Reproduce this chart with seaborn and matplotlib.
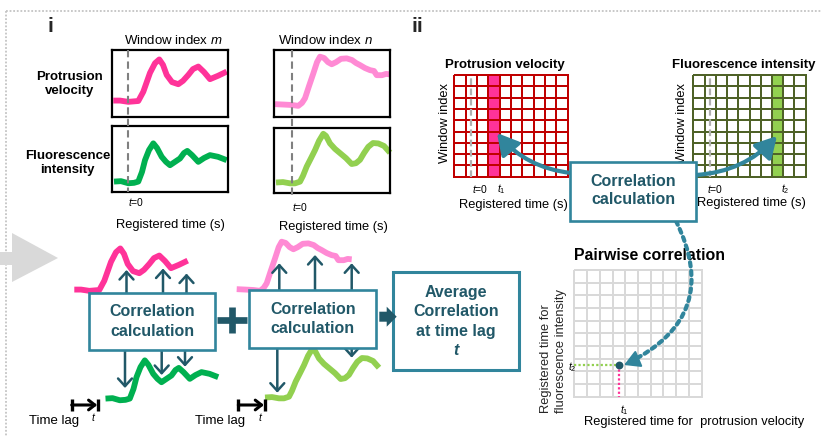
import numpy as np
import matplotlib
matplotlib.use("Agg")
import matplotlib.pyplot as plt
import seaborn as sns
from matplotlib.patches import Rectangle, Polygon, FancyArrowPatch
from matplotlib.colors import ListedColormap

sns.set_theme(style="white")
plt.rcParams["font.family"] = ["Liberation Sans", "DejaVu Sans"]
plt.rcParams["mathtext.fontset"] = "custom"
plt.rcParams["mathtext.rm"] = "Liberation Sans"
plt.rcParams["mathtext.it"] = "Liberation Sans:italic"
plt.rcParams["mathtext.bf"] = "Liberation Sans:bold"

# ---------------- data ----------------
# protrusion velocity, window m
pv_m_t = [-1.47, -0.8, 0.03, 1.03, 1.53, 2.2, 2.7, 3.13, 3.5, 3.87, 4.4, 5.03, 5.5, 6.03, 6.5, 7.03, 7.6, 8.2, 9.0, 9.87]
pv_m_v = [0.01, 0.01, -0.02, 0.0, 0.22, 0.67, 0.9, 0.99, 0.86, 0.62, 0.45, 0.4, 0.48, 0.62, 0.76, 0.82, 0.69, 0.52, 0.6, 0.7]
# fluorescence intensity, window m
fi_m_t = [-1.4, -0.7, 0.03, 0.6, 1.03, 1.4, 1.7, 2.1, 2.53, 2.9, 3.37, 3.8, 4.2, 4.7, 5.2, 5.6, 5.93, 6.4, 7.03, 7.6, 8.2, 9.0, 9.87]
fi_m_v = [0.01, 0.02, -0.03, -0.02, 0.01, 0.24, 0.52, 0.76, 0.92, 0.81, 0.6, 0.48, 0.4, 0.48, 0.56, 0.69, 0.74, 0.64, 0.48, 0.57, 0.64, 0.6, 0.52]
# protrusion velocity, window n
pv_n_t = [-1.7, -0.8, -0.03, 0.63, 1.0, 1.3, 1.7, 2.13, 2.5, 2.8, 3.2, 3.6, 3.97, 4.4, 4.9, 5.47, 6.0, 6.4, 6.8, 7.3, 7.8, 8.2, 8.47, 9.0, 9.4, 9.8]
pv_n_v = [0.02, 0.01, 0.0, -0.02, 0.05, 0.16, 0.45, 0.75, 1.02, 1.15, 1.12, 1.02, 0.97, 1.02, 1.1, 1.11, 1.07, 1.0, 0.95, 0.88, 0.83, 0.81, 0.71, 0.71, 0.74, 0.73]
# fluorescence intensity, window n
fi_n_t = [-1.6, -0.9, -0.2, 0.3, 0.8, 1.1, 1.47, 1.9, 2.3, 2.7, 3.13, 3.4, 3.8, 4.3, 4.8, 5.4, 5.97, 6.4, 6.8, 7.2, 7.63, 8.1, 8.63, 9.2, 9.8]
fi_n_v = [0.0, 0.01, -0.02, -0.02, 0.02, 0.16, 0.38, 0.58, 0.77, 0.99, 1.16, 1.11, 0.93, 0.8, 0.7, 0.58, 0.44, 0.46, 0.54, 0.7, 0.85, 0.94, 0.93, 0.87, 0.71]

grid_windows = 9       # rows of the window x time maps
grid_times = 10        # columns of the window x time maps
t0_col = 1             # column of t=0
pv_t1_col = 3          # highlighted column t1 (protrusion)
fi_t2_col = 7          # highlighted column t2 (fluorescence)
pair_n = 10            # pairwise correlation matrix size
pair_t1 = 3            # column of t1
pair_t2_row = 7        # row (from top) of t2

# ---------------- style ----------------
PINK = "#FF3399"
LPINK = "#FF8AD4"
GREEN = "#00B050"
LGREEN = "#92D050"
TEAL = "#31859C"
DTEAL = "#215868"
RED = "#C00000"
OLIVE = "#4F6228"

W, H = 822, 437
fig = plt.figure(figsize=(W / 100, H / 100), dpi=100)


def px_axes(x0, y0, x1, y1, z=0):
    ax = fig.add_axes([x0 / W, 1 - y1 / H, (x1 - x0) / W, (y1 - y0) / H], zorder=z)
    ax.patch.set_alpha(0)
    return ax


bg = px_axes(0, 0, W, H, z=0)
bg.set_xlim(0, W)
bg.set_ylim(H, 0)
bg.axis("off")

# dotted frame + grey arrow
bg.plot([6, W], [11, 11], color="#C4C4C4", lw=1.3, ls=(0, (1, 1)))
bg.plot([6, 6], [11, H], color="#C4C4C4", lw=1.3, ls=(0, (1, 1)))
bg.add_patch(Polygon([(0, 252), (12, 252), (12, 233), (58, 258), (12, 282), (12, 265), (0, 265)],
                     closed=True, facecolor="#D9D9D9", edgecolor="none", zorder=3))

SX, SY = 10.0, 42.0


def curve(t, v, color, t0x, base, box=None, framed=False, z=1):
    if box is None:
        box = (t0x - 25, base - 60, t0x + 115, base + 12)
    x0, y0, x1, y1 = box
    ax = px_axes(x0, y0, x1, y1, z)
    sns.lineplot(x=t, y=v, ax=ax, color=color, lw=4.2, sort=False, estimator=None, legend=False)
    ax.set_xlim((x0 - t0x) / SX, (x1 - t0x) / SX)
    ax.set_ylim((base - y1) / SY, (base - y0) / SY)
    ax.set_xticks([])
    ax.set_yticks([])
    ax.set_xlabel("")
    ax.set_ylabel("")
    for ln in ax.lines:
        ln.set_clip_on(False)
        ln.set_solid_joinstyle("round")
        ln.set_solid_capstyle("butt")
    for s in ax.spines.values():
        s.set_visible(framed)
        s.set_color("black")
        s.set_linewidth(1.6)
    return ax


# panel i: framed traces
curve(pv_m_t, pv_m_v, PINK, 128, 101, box=(112, 50, 228, 117), framed=True)
curve(fi_m_t, fi_m_v, GREEN, 128, 182, box=(112, 126, 228, 192), framed=True)
curve(pv_n_t, pv_n_v, LPINK, 292, 105, box=(274, 50, 390, 117), framed=True)
curve(fi_n_t, fi_n_v, LGREEN, 292, 182.5, box=(274, 128, 390, 193), framed=True)
# panel i: lagged copies
curve(pv_m_t, pv_m_v, PINK, 89, 290)
curve(fi_m_t, fi_m_v, GREEN, 119.5, 399)
curve(pv_n_t, pv_n_v, LPINK, 253.7, 290)
curve(fi_n_t, fi_n_v, LGREEN, 281, 397.5)


def grid(box, nrows, ncols, fill_col, fill_color, line_color, lw, dashed_col=None):
    x0, y0, x1, y1 = box
    ax = px_axes(x0, y0, x1, y1, z=2)
    data = np.zeros((nrows, ncols))
    if fill_col is not None:
        data[:, fill_col] = 1
    sns.heatmap(data, ax=ax, cmap=ListedColormap(["white", fill_color]), vmin=0, vmax=1,
                cbar=False, linewidths=lw, linecolor=line_color,
                xticklabels=False, yticklabels=False)
    ax.collections[0].set_clip_on(False)
    if dashed_col is not None:
        ax.axvline(dashed_col + 0.5, color="#B0B0B0", ls=(0, (3, 1.6)), lw=1.6, clip_on=False)
    return ax


grid((454.3, 75, 567.7, 176.7), grid_windows, grid_times, pv_t1_col, PINK, RED, 1.4, t0_col)
grid((693.3, 75, 805.7, 176.7), grid_windows, grid_times, fi_t2_col, LGREEN, OLIVE, 1.4, t0_col)
pax = grid((574.3, 270, 701.7, 396.7), pair_n, pair_n, None, "white", "#D9D9D9", 1.4)
pax.plot([0, pair_t1 + 0.5], [pair_t2_row + 0.5] * 2, color=LGREEN, lw=1.6, ls=(0, (1, 1)), clip_on=False)
pax.plot([pair_t1 + 0.5] * 2, [pair_t2_row + 0.5, pair_n], color=PINK, lw=1.6, ls=(0, (1, 1)), clip_on=False)
pax.scatter([pair_t1 + 0.5], [pair_t2_row + 0.5], s=32, color=DTEAL, zorder=5, clip_on=False, linewidths=0)

# ---------------- overlay ----------------
ov = px_axes(0, 0, W, H, z=10)
ov.set_xlim(0, W)
ov.set_ylim(H, 0)
ov.axis("off")

# t=0 dashed lines panel i
ov.plot([128, 128], [50, 192], color="#808080", lw=1.5, ls=(0, (3.5, 2)))
ov.plot([292, 292], [50, 195], color="#808080", lw=1.5, ls=(0, (3.5, 2)))

TXT = dict(color="black", ha="center", va="center")
ov.text(47, 26, "i", fontsize=15, fontweight="bold", ha="left", va="center")
ov.text(411, 26, "ii", fontsize=15, fontweight="bold", ha="left", va="center")
ov.text(173, 41, "Window index $m$", fontsize=9.5, **TXT)
ov.text(325, 41, "Window index $n$", fontsize=9.5, **TXT)
ov.text(69.5, 84, "Protrusion\nvelocity", fontsize=9.5, fontweight="bold", linespacing=1.15, **TXT)
ov.text(67.5, 163, "Fluorescence\nintensity", fontsize=9.5, fontweight="bold", linespacing=1.15, **TXT)
ov.text(136, 202, "$t$=0", fontsize=7.5, **TXT)
ov.text(300, 207, "$t$=0", fontsize=7.5, **TXT)
ov.text(170.5, 225, "Registered time (s)", fontsize=9.3, **TXT)
ov.text(333.5, 227, "Registered time (s)", fontsize=9.3, **TXT)

# correlation boxes
def box(x0, y0, x1, y1, lw=1.9):
    ov.add_patch(Rectangle((x0, y0), x1 - x0, y1 - y0, facecolor="white", edgecolor=TEAL, lw=lw, zorder=4))

box(89, 293, 215, 350)
box(249.3, 290, 376, 348.3)
box(393.3, 272.3, 519.3, 370, lw=2.2)
box(570.3, 162.3, 696, 221)

BT = dict(color=DTEAL, fontweight="bold", fontsize=11.5, ha="center", va="center", zorder=6)
ov.text(152, 312, "Correlation", **BT)
ov.text(152, 331, "calculation", **BT)
ov.text(312.7, 310, "Correlation", **BT)
ov.text(312.7, 328.5, "calculation", **BT)
ov.text(456, 292.7, "Average", **BT)
ov.text(456, 311.7, "Correlation", **BT)
ov.text(456, 331.2, "at time lag", **BT)
ov.text(456, 350.7, "t", fontstyle="italic", **BT)
ov.text(633, 181.7, "Correlation", **BT)
ov.text(633, 200, "calculation", **BT)

# up / down arrows
def arr(x, y0, y1):
    ov.add_patch(FancyArrowPatch((x, y0), (x, y1), arrowstyle="->,head_length=0.55,head_width=0.5",
                                 mutation_scale=10, lw=1.8, color=DTEAL, zorder=3, shrinkA=0, shrinkB=0))

for x, tip in [(126.5, 270), (163, 268.5), (186.5, 273.5)]:
    arr(x, 293, tip)
for x, tip in [(125, 388), (161.7, 375), (185, 366.7)]:
    arr(x, 350, tip)
for x, tip in [(279.3, 263.3), (315, 255), (351.7, 263.3)]:
    arr(x, 290, tip)
for x, tip in [(277.3, 392.7), (351.7, 357.7)]:
    arr(x, 348.3, tip)

# plus sign
ov.plot([216.7, 246.7], [319.7, 319.7], color=DTEAL, lw=4.8, solid_capstyle="butt", zorder=5)
ov.plot([231.7, 231.7], [307.3, 333.3], color=DTEAL, lw=4.8, solid_capstyle="butt", zorder=5)
# block arrow to average box
ov.add_patch(Polygon([(379.3, 311.7), (386.7, 311.7), (386.7, 306.7), (396.7, 316.7), (386.7, 326.7),
                      (386.7, 321.7), (379.3, 321.7)], closed=True, facecolor=DTEAL, edgecolor="none", zorder=5))

# time lag bars
for xa, xb, tx, lx in [(71.7, 98.3, 94, 54), (238.3, 265, 260.7, 220.5)]:
    ov.plot([xa, xa], [399, 411], color="black", lw=2.4, solid_capstyle="butt")
    ov.plot([xb, xb], [399, 411], color="black", lw=2.4, solid_capstyle="butt")
    ov.add_patch(FancyArrowPatch((xa, 405), (xb - 1, 405), arrowstyle="->,head_length=0.45,head_width=0.35",
                                 mutation_scale=10, lw=2.2, color="black", shrinkA=0, shrinkB=0))
    ov.text(tx, 417, "$t$", fontsize=7.5, **TXT)
    ov.text(lx, 421, "Time lag", fontsize=9.5, **TXT)

# panel ii labels
ov.text(505, 65, "Protrusion velocity", fontsize=9.5, fontweight="bold", **TXT)
ov.text(743.3, 65, "Fluorescence intensity", fontsize=9.5, fontweight="bold", **TXT)
ov.text(445, 123, "Window index", fontsize=9.3, rotation=90, **TXT)
ov.text(681.7, 123, "Window index", fontsize=9.3, rotation=90, **TXT)
ov.text(480, 189.3, "$t$=0", fontsize=7.5, **TXT)
ov.text(501.5, 189.3, "$t_1$", fontsize=7.5, **TXT)
ov.text(715, 189.3, "$t$=0", fontsize=7.5, **TXT)
ov.text(785.7, 189.3, "$t_2$", fontsize=7.5, **TXT)
ov.text(513.3, 205, "Registered time (s)", fontsize=9.3, **TXT)
ov.text(751.7, 203.3, "Registered time (s)", fontsize=9.3, **TXT)
ov.text(649.3, 255, "Pairwise correlation", fontsize=11.4, fontweight="bold", **TXT)
ov.text(546, 413, "Registered time for", fontsize=9.3, rotation=90, rotation_mode="anchor",
        ha="left", va="center")
ov.text(561, 413, "fluorescence intensity", fontsize=9.3, rotation=90, rotation_mode="anchor",
        ha="left", va="center")
ov.text(572.7, 366.7, "$t_2$", fontsize=7.5, **TXT)
ov.text(624.3, 410, "$t_1$", fontsize=7.5, **TXT)
ov.text(694, 421.7, "Registered time for  protrusion velocity", fontsize=9.3, **TXT)

# curved arrows in panel ii
ov.add_patch(FancyArrowPatch((571, 173), (497, 133), connectionstyle="arc3,rad=-0.2",
                             arrowstyle="-|>,head_length=0.9,head_width=0.5", mutation_scale=14,
                             lw=3, color=TEAL, zorder=3, shrinkA=0, shrinkB=0))
ov.add_patch(FancyArrowPatch((696, 175), (777, 136), connectionstyle="arc3,rad=0.2",
                             arrowstyle="-|>,head_length=0.9,head_width=0.5", mutation_scale=14,
                             lw=3, color=TEAL, zorder=3, shrinkA=0, shrinkB=0))
# dotted arc from middle box to pairwise matrix
ov.add_patch(FancyArrowPatch((676, 221), (628, 363), connectionstyle="arc3,rad=-0.5",
                             arrowstyle="-", lw=3, color=TEAL, ls=(0, (1, 1.1)), zorder=3,
                             shrinkA=0, shrinkB=0))
ov.add_patch(FancyArrowPatch((637, 359.5), (624, 365), arrowstyle="-|>,head_length=0.8,head_width=0.45",
                             mutation_scale=12, lw=1.5, color=TEAL, zorder=3, shrinkA=0, shrinkB=0))

fig.savefig("out.png", dpi=100)
